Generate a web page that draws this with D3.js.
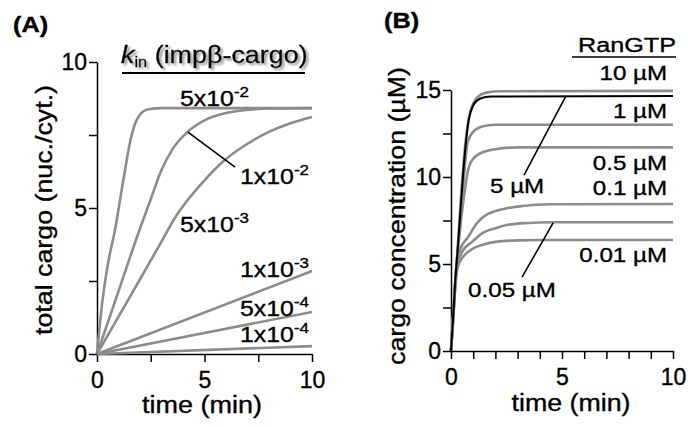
<!DOCTYPE html>
<html>
<head>
<meta charset="utf-8">
<script src="https://cdn.jsdelivr.net/npm/d3@7"></script>
<style>
  body { margin: 0; background: #fff; }
  text { font-family: "Liberation Sans", Arial, sans-serif; fill: #000; stroke: #000; stroke-width: 0.35px; }
</style>
</head>
<body>
<svg id="chart" width="688" height="427"></svg>
<script>
// ---- panel A: total cargo vs time for several k_in values ----
const kinNames = ['5e-2', '1e-2', '5e-3', '1e-3', '5e-4', '1e-4'];
const kinBase = ['5x10', '1x10', '5x10', '1x10', '5x10', '1x10'];
const kinExp = ['-2', '-2', '-3', '-3', '-4', '-4'];
const cargoA = [
  [[0,0],[0.25,1.8],[0.5,3.05],[0.85,4.3],[1.1,5.4],[1.35,6.5],[1.55,7.3],[1.75,7.85],[2.0,8.2],[2.4,8.38],[3,8.42],[10,8.42]],
  [[0,0],[1,2.15],[2,4.3],[2.5,5.3],[3,6.3],[3.5,7.0],[4.2,7.6],[5,8.0],[6,8.25],[7,8.36],[8,8.41],[10,8.42]],
  [[0,0],[1,1.28],[2,2.56],[3,3.85],[3.7,4.75],[4.3,5.35],[5,5.95],[5.8,6.55],[7,7.2],[7.9,7.57],[9,7.9],[10,8.12]],
  [[0,0],[10,2.84]],
  [[0,0],[10,1.44]],
  [[0,0],[10,0.27]]
];
// label anchors in data units (time, cargo)
const kinLabelAt = [[3.86,8.49],[6.65,5.82],[3.86,4.18],[6.65,2.64],[6.65,1.29],[6.65,0.41]];
const kinLeader = [[4.23,7.6],[6.42,6.4]];   // line pointing at the 1x10^-2 curve
const ticksA_x = [0, 2.5, 5, 7.5, 10];
const ticksA_y = [0, 2.5, 5, 7.5, 10];

// ---- panel B: cargo concentration vs time for several RanGTP ----
const ranNames = ['10 µM', '1 µM', '0.5 µM', '0.1 µM', '0.05 µM', '0.01 µM', '5 µM'];
const concB = [
  [[0,0],[0.1,2],[0.2,4.2],[0.3,5.9],[0.4,7.9],[0.63,11.7],[0.86,13.7],[1.2,14.6],[1.6,14.85],[2.2,14.93],[10,14.95]],
  [[0,0],[0.1,2],[0.2,4.1],[0.3,5.7],[0.45,8],[0.6,10.3],[0.75,12],[1,12.6],[1.4,12.9],[2,13.0],[10,13.0]],
  [[0,0],[0.1,2],[0.2,4.1],[0.3,5.6],[0.45,7.5],[0.6,9],[0.77,10.4],[1,11.05],[1.5,11.45],[2,11.6],[3,11.7],[10,11.7]],
  [[0,0],[0.1,2],[0.2,4],[0.3,5.2],[0.4,5.8],[0.77,6.55],[1.17,7.35],[1.5,7.75],[1.9,8.0],[2.5,8.2],[3.2,8.33],[4.5,8.43],[10,8.45]],
  [[0,0],[0.1,1.9],[0.2,3.9],[0.3,5.0],[0.5,5.7],[0.95,6.27],[1.45,6.8],[2,7.05],[2.5,7.24],[3.5,7.36],[4.5,7.4],[10,7.4]],
  [[0,0],[0.1,1.8],[0.2,3.8],[0.3,4.8],[0.45,5.25],[0.6,5.5],[1,5.9],[1.5,6.13],[2,6.27],[3,6.36],[4,6.38],[10,6.38]],
  [[0,0],[0.1,2],[0.2,4.2],[0.3,5.8],[0.45,8.5],[0.6,11],[0.8,13.3],[1,14.1],[1.3,14.5],[1.8,14.63],[10,14.65]]
];
const ranLabelAt = [[9.73,15.57],[9.73,13.39],[9.73,10.40],[9.73,8.97],[0.77,3.10],[9.73,5.11],[1.76,9.08]];
const ranLeaders = [[[3.2,4.25],[4.6,7.36]], [[3.29,10.11],[5.18,14.66]]];
const ticksB_x = [0,1,2,3,4,5,6,7,8,9,10];
const ticksB_y = [0, 2.5, 5, 7.5, 10, 12.5, 15];

const grey = '#8c8c8c';
const svg = d3.select('#chart');

// soft grey shadow behind the k_in header
const shadow = svg.append('defs').append('filter').attr('id', 'shadow')
  .attr('x', '-10%').attr('y', '-30%').attr('width', '130%').attr('height', '170%');
shadow.append('feDropShadow').attr('dx', 2).attr('dy', 2).attr('stdDeviation', 0.8)
  .attr('flood-color', '#999').attr('flood-opacity', 1);

const xA = d3.scaleLinear().domain([0, 10]).range([97, 312]);
const yA = d3.scaleLinear().domain([0, 10]).range([354, 62]);
const xB = d3.scaleLinear().domain([0, 10]).range([451, 673]);
const yB = d3.scaleLinear().domain([0, 15]).range([351, 90]);

// stretched text helper (the figure's type is wide)
function txt(x, y, s, size, opt = {}) {
  const t = svg.append('text')
    .attr('transform', `translate(${x},${y}) scale(${opt.sx || 1.13},1)`)
    .style('font-size', size + 'px')
    .attr('text-anchor', opt.anchor || 'start');
  if (opt.bold) t.style('font-weight', 'bold');
  t.text(s);
  return t;
}

function supLabel(x, y, base, exp) {
  const t = txt(x, y, null, 22);
  t.append('tspan').text(base);
  t.append('tspan').attr('dy', -9).style('font-size', '15px').text(exp);
}

function drawAxes(x, y, tx, ty, major) {
  const fmt = d => major.includes(d) ? d : '';
  const gx = svg.append('g').attr('transform', `translate(0,${y.range()[0]})`)
    .call(d3.axisBottom(x).tickValues(tx).tickFormat(fmt).tickSize(8).tickSizeOuter(0).tickPadding(10));
  const gy = svg.append('g').attr('transform', `translate(${x.range()[0]},0)`)
    .call(d3.axisLeft(y).tickValues(ty).tickFormat(fmt).tickSize(8).tickSizeOuter(0).tickPadding(2));
  [gx, gy].forEach(g => {
    g.selectAll('path,line').attr('stroke', '#000').attr('stroke-width', 1.5);
    g.selectAll('text').style('font-size', '23px').attr('font-family', '"Liberation Sans", Arial, sans-serif');
  });
}

const line = (x, y) => d3.line().x(d => x(d[0])).y(d => y(d[1])).curve(d3.curveMonotoneX);

// ---------- panel A ----------
drawAxes(xA, yA, ticksA_x, ticksA_y, [0, 5, 10]);

svg.append('g').selectAll('path').data(cargoA).join('path')
  .attr('d', line(xA, yA))
  .attr('fill', 'none').attr('stroke', grey).attr('stroke-width', 2.6);

svg.append('line')
  .attr('x1', xA(kinLeader[0][0])).attr('y1', yA(kinLeader[0][1]))
  .attr('x2', xA(kinLeader[1][0])).attr('y2', yA(kinLeader[1][1]))
  .attr('stroke', '#000').attr('stroke-width', 1.6);

kinNames.forEach((k, i) => supLabel(xA(kinLabelAt[i][0]), yA(kinLabelAt[i][1]), kinBase[i], kinExp[i]));

// header
const head = txt(121, 63, null, 23, { sx: 1.17 }).attr('filter', 'url(#shadow)');
head.append('tspan').style('font-style', 'italic').text('k');
head.append('tspan').attr('dy', 4).style('font-size', '14px').text('in');
head.append('tspan').attr('dy', -4).text(' (impβ-cargo)');
svg.append('line').attr('x1', 122).attr('x2', 305).attr('y1', 73).attr('y2', 73)
  .attr('stroke', '#000').attr('stroke-width', 2);

txt(13, 32, '(A)', 22, { bold: true, sx: 1.15 });
svg.append('text').attr('x', 202).attr('y', 413).attr('text-anchor', 'middle')
  .style('font-size', '23px').attr('textLength', 120).attr('lengthAdjust', 'spacingAndGlyphs')
  .text('time (min)');
svg.append('text').attr('transform', 'translate(52,210) rotate(-90)').attr('text-anchor', 'middle')
  .style('font-size', '24px').attr('textLength', 250).attr('lengthAdjust', 'spacingAndGlyphs')
  .text('total cargo (nuc./cyt.)');

// ---------- panel B ----------
drawAxes(xB, yB, ticksB_x, ticksB_y, [0, 5, 10, 15]);

svg.append('g').selectAll('path').data(concB.slice(0, 6)).join('path')
  .attr('d', line(xB, yB))
  .attr('fill', 'none').attr('stroke', grey).attr('stroke-width', 2.6);
svg.append('path').datum(concB[6])
  .attr('d', line(xB, yB))
  .attr('fill', 'none').attr('stroke', '#000').attr('stroke-width', 2);

ranLeaders.forEach(l => svg.append('line')
  .attr('x1', xB(l[0][0])).attr('y1', yB(l[0][1]))
  .attr('x2', xB(l[1][0])).attr('y2', yB(l[1][1]))
  .attr('stroke', '#000').attr('stroke-width', 1.6));

ranNames.forEach((n, i) => {
  const right = ranLabelAt[i][0] > 5;
  txt(xB(ranLabelAt[i][0]), yB(ranLabelAt[i][1]), n, 21, { anchor: right ? 'end' : 'start', sx: 1.15 });
});

txt(676, 52, 'RanGTP', 21, { anchor: 'end', sx: 1.2 });
svg.append('line').attr('x1', 572).attr('x2', 676).attr('y1', 57).attr('y2', 57)
  .attr('stroke', '#000').attr('stroke-width', 1.5);

txt(384, 28, '(B)', 22, { bold: true, sx: 1.15 });
svg.append('text').attr('x', 571).attr('y', 411).attr('text-anchor', 'middle')
  .style('font-size', '23px').attr('textLength', 119).attr('lengthAdjust', 'spacingAndGlyphs')
  .text('time (min)');
svg.append('text').attr('transform', 'translate(405,216) rotate(-90)').attr('text-anchor', 'middle')
  .style('font-size', '24px').attr('textLength', 298).attr('lengthAdjust', 'spacingAndGlyphs')
  .text('cargo concentration (µM)');
</script>
</body>
</html>
